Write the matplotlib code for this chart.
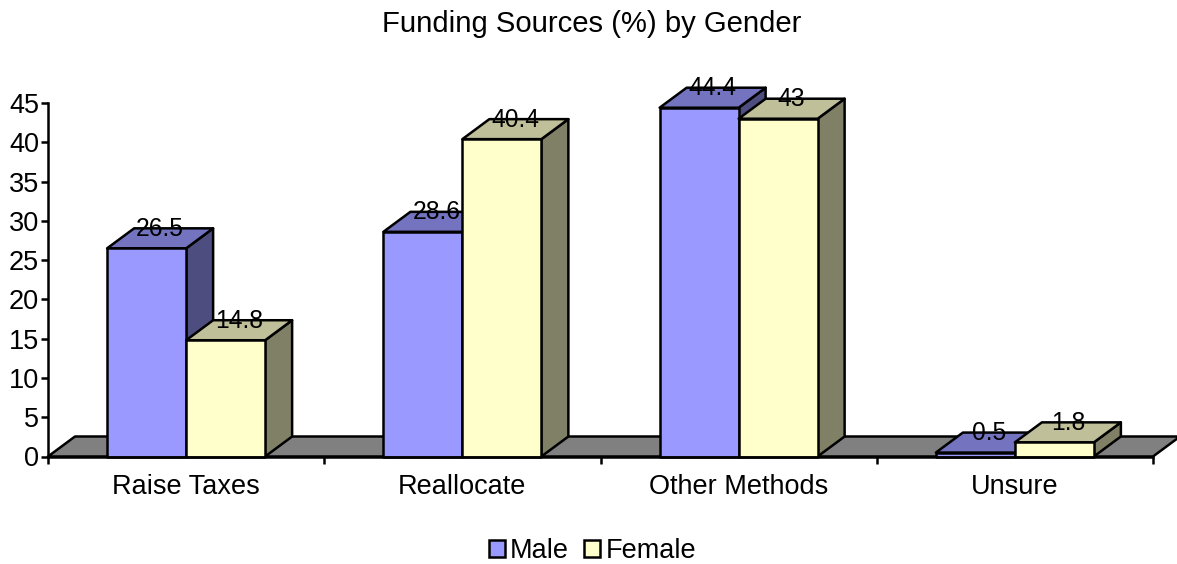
import numpy as np
import matplotlib
matplotlib.use("Agg")
import matplotlib.pyplot as plt
from matplotlib.patches import Polygon, Patch

plt.rcParams["font.family"] = ["Liberation Sans", "DejaVu Sans"]

categories = ["Raise Taxes", "Reallocate", "Other Methods", "Unsure"]
male = [26.5, 28.6, 44.4, 0.5]
female = [14.8, 40.4, 43, 1.8]
y_ticks = [0, 5, 10, 15, 20, 25, 30, 35, 40, 45]

W, H = 1177, 564
FS = 19.5
FS_VAL = 17.7
FS_TITLE = 21.1
LW = 1.8
BAR_W = 79 / 276.25
DX = 27 / 276.25
DY = 20 / 7.856

MALE_COLS = ("#9999FF", "#7373BF", "#4D4D80")
FEMALE_COLS = ("#FFFFCC", "#BFBF99", "#808066")

fig = plt.figure(figsize=(W / 100, H / 100), dpi=100)
ax = fig.add_axes([48 / W, 1 - 456.5 / H, (1153 - 48) / W, 353.5 / H])
ax.set_xlim(0, 4)
ax.set_ylim(0, 45)


def poly(points, color, z):
    ax.add_patch(Polygon(points, closed=True, facecolor=color, edgecolor="black",
                         linewidth=LW, joinstyle="round", clip_on=False, zorder=z))


def bar3d(x0, val, cols, z):
    x1 = x0 + BAR_W
    poly([(x1, 0), (x1 + DX, DY), (x1 + DX, val + DY), (x1, val)], cols[2], z)
    poly([(x0, val), (x0 + DX, val + DY), (x1 + DX, val + DY), (x1, val)], cols[1], z)
    poly([(x0, 0), (x1, 0), (x1, val), (x0, val)], cols[0], z)


# floor
poly([(0, 0), (DX, DY), (4 + DX, DY), (4, 0)], "#808080", 1)

for i in range(len(categories)):
    c = i + 0.5
    bar3d(c - BAR_W, male[i], MALE_COLS, 3 + i * 2)
    bar3d(c, female[i], FEMALE_COLS, 4 + i * 2)
    ax.text(c - BAR_W / 2 + DX / 2, male[i] + DY - 0.05, f"{male[i]:g}", ha="center", va="center",
            fontsize=FS_VAL, color="black", zorder=20)
    ax.text(c + BAR_W / 2 + DX / 2, female[i] + DY - 0.05, f"{female[i]:g}", ha="center", va="center",
            fontsize=FS_VAL, color="black", zorder=20)

ax.spines["top"].set_visible(False)
ax.spines["right"].set_visible(False)
ax.spines["left"].set_linewidth(LW)
ax.spines["bottom"].set_linewidth(LW)
ax.spines["left"].set_zorder(30)
ax.spines["bottom"].set_zorder(30)
ax.patch.set_visible(False)

ax.set_yticks(y_ticks)
ax.set_xticks(np.arange(5))
ax.set_xticklabels([])
ax.set_xticks(np.arange(4) + 0.5, labels=categories, minor=True)
ax.tick_params(axis="y", length=5, width=LW, labelsize=FS, pad=1.5)
ax.tick_params(axis="x", which="major", length=5, width=LW)
ax.tick_params(axis="x", which="minor", length=0, labelsize=FS, pad=12.5)

fig.text(591.5 / W, 1 - 24 / H, "Funding Sources (%) by Gender", ha="center", va="center", fontsize=FS_TITLE)

handles = [Patch(facecolor=MALE_COLS[0], edgecolor="black", linewidth=LW, label="Male"),
           Patch(facecolor=FEMALE_COLS[0], edgecolor="black", linewidth=LW, label="Female")]
fig.legend(handles=handles, loc="center", bbox_to_anchor=(592.5 / W, 1 - 551 / H), ncol=2, frameon=False,
           fontsize=FS, handlelength=0.58, handleheight=0.58, handletextpad=0.2, columnspacing=0.57,
           borderpad=0, borderaxespad=0)

fig.savefig("out.png", dpi=100)
